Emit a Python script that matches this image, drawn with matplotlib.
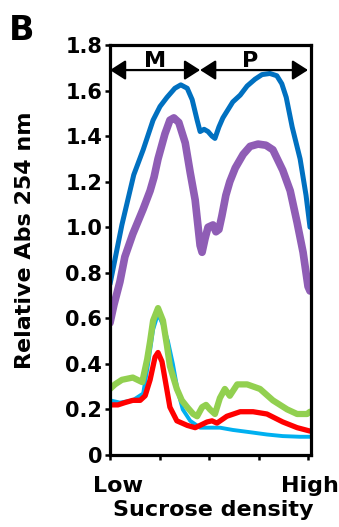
import matplotlib
matplotlib.use("Agg")
import matplotlib.pyplot as plt

# ---- data (x in fraction units: Low=0 ... High=4) ----
blue_x = [0, 0.12, 0.24, 0.36, 0.48, 0.67, 0.87, 1.01, 1.15, 1.31, 1.43, 1.56, 1.66, 1.76, 1.82, 1.90, 1.98, 2.06, 2.12, 2.20, 2.28, 2.48, 2.63, 2.77, 2.93, 3.07, 3.23, 3.37, 3.47, 3.56, 3.68, 3.84, 3.96, 4.04]
blue_y = [0.75, 0.88, 1.01, 1.12, 1.23, 1.34, 1.47, 1.53, 1.57, 1.61, 1.625, 1.61, 1.56, 1.47, 1.42, 1.43, 1.42, 1.40, 1.39, 1.44, 1.48, 1.55, 1.58, 1.62, 1.65, 1.67, 1.675, 1.665, 1.63, 1.57, 1.44, 1.30, 1.14, 1.00]

purple_x = [0, 0.08, 0.20, 0.30, 0.46, 0.67, 0.81, 0.89, 0.97, 1.11, 1.21, 1.29, 1.39, 1.52, 1.62, 1.72, 1.82, 1.86, 1.92, 1.98, 2.08, 2.14, 2.20, 2.26, 2.34, 2.42, 2.53, 2.69, 2.83, 2.99, 3.15, 3.29, 3.49, 3.64, 3.78, 3.90, 4.0, 4.04]
purple_y = [0.58, 0.66, 0.76, 0.87, 0.97, 1.08, 1.16, 1.22, 1.30, 1.41, 1.47, 1.48, 1.46, 1.37, 1.24, 1.12, 0.92, 0.89, 0.95, 1.00, 1.01, 0.98, 0.99, 1.05, 1.14, 1.20, 1.26, 1.32, 1.355, 1.365, 1.36, 1.34, 1.25, 1.16, 1.02, 0.89, 0.74, 0.72]

cyan_x = [0, 0.20, 0.46, 0.67, 0.77, 0.87, 0.97, 1.07, 1.17, 1.27, 1.37, 1.47, 1.62, 1.82, 1.96, 2.12, 2.22, 2.48, 2.83, 3.17, 3.49, 3.84, 4.04]
cyan_y = [0.24, 0.23, 0.24, 0.27, 0.40, 0.55, 0.62, 0.57, 0.50, 0.40, 0.28, 0.20, 0.15, 0.12, 0.12, 0.12, 0.12, 0.11, 0.10, 0.09, 0.083, 0.08, 0.08]

green_x = [0, 0.10, 0.24, 0.46, 0.65, 0.75, 0.81, 0.87, 0.97, 1.07, 1.15, 1.21, 1.35, 1.45, 1.56, 1.68, 1.76, 1.86, 1.94, 2.02, 2.12, 2.22, 2.32, 2.42, 2.57, 2.77, 3.03, 3.29, 3.58, 3.78, 3.98, 4.04]
green_y = [0.29, 0.31, 0.33, 0.34, 0.32, 0.42, 0.50, 0.59, 0.645, 0.59, 0.48, 0.39, 0.29, 0.24, 0.21, 0.18, 0.17, 0.21, 0.22, 0.20, 0.18, 0.25, 0.29, 0.26, 0.31, 0.31, 0.29, 0.24, 0.20, 0.18, 0.18, 0.19]

red_x = [0, 0.16, 0.30, 0.46, 0.61, 0.71, 0.81, 0.91, 0.97, 1.05, 1.13, 1.21, 1.35, 1.56, 1.72, 1.82, 1.96, 2.06, 2.16, 2.36, 2.63, 2.89, 3.17, 3.49, 3.78, 4.04]
red_y = [0.22, 0.22, 0.23, 0.24, 0.24, 0.26, 0.33, 0.43, 0.45, 0.41, 0.31, 0.21, 0.15, 0.13, 0.12, 0.13, 0.145, 0.15, 0.14, 0.17, 0.19, 0.19, 0.18, 0.145, 0.12, 0.105]

yticks = [0, 0.2, 0.4, 0.6, 0.8, 1.0, 1.2, 1.4, 1.6, 1.8]
ytick_labels = ["0", "0.2", "0.4", "0.6", "0.8", "1.0", "1.2", "1.4", "1.6", "1.8"]
xticks = [0, 1, 2, 3, 4]
x_end_labels = ["Low", "High"]
region_labels = ["M", "P"]
region_bounds = [0, 1.82, 4.0]

plt.rcParams['font.family'] = ['DejaVu Sans']
plt.rcParams['font.weight'] = 'bold'

W, H = 339, 527
fig = plt.figure(figsize=(W / 100, H / 100), dpi=100)
ax = fig.add_axes([110 / W, 1 - 455 / H, 200.5 / W, 410 / H])

kw = dict(solid_capstyle='round', solid_joinstyle='round')
ax.plot(purple_x, purple_y, color='#8F5DB5', lw=5.5, **kw)
ax.plot(blue_x, blue_y, color='#0070C0', lw=3.6, **kw)
ax.plot(cyan_x, cyan_y, color='#00B0F0', lw=2.8, **kw)
ax.plot(green_x, green_y, color='#92D050', lw=4.5, **kw)
ax.plot(red_x, red_y, color='#FF0000', lw=3.8, **kw)

ax.set_xlim(0, 4.05)
ax.set_ylim(0, 1.8)
ax.set_yticks(yticks)
ax.set_yticklabels(ytick_labels, fontsize=15, fontweight='bold')
ax.set_xticks(xticks)
ax.set_xticklabels([])
ax.tick_params(axis='both', direction='out', length=3.5, width=1.8, pad=2)
for s in ax.spines.values():
    s.set_linewidth(2.3)

# region arrows
ya = 1.69
for i in range(2):
    ax.annotate('', xy=(region_bounds[i], ya), xytext=(region_bounds[i + 1], ya),
                arrowprops=dict(arrowstyle='<|-|>,head_length=0.47,head_width=0.3',
                                mutation_scale=20, lw=1.6, color='black',
                                shrinkA=0, shrinkB=0))
ax.text(0.91, 1.705, region_labels[0], ha='center', va='baseline', fontsize=16, fontweight='bold')
ax.text(2.83, 1.705, region_labels[1], ha='center', va='baseline', fontsize=16, fontweight='bold')

# x end labels and axis titles
fig.text(118 / W, 1 - 492 / H, x_end_labels[0], ha='center', va='baseline', fontsize=16, fontweight='bold')
fig.text(310 / W, 1 - 492 / H, x_end_labels[1], ha='center', va='baseline', fontsize=16, fontweight='bold')
fig.text(213 / W, 1 - 516 / H, "Sucrose density", ha='center', va='baseline', fontsize=16, fontweight='bold')
fig.text(25 / W, 1 - 240 / H, "Relative Abs 254 nm", ha='center', va='center', rotation=90, fontsize=16, fontweight='bold')
fig.text(22 / W, 1 - 40 / H, "B", ha='center', va='baseline', fontsize=24, fontweight='bold')

fig.savefig('out.png', dpi=100)
